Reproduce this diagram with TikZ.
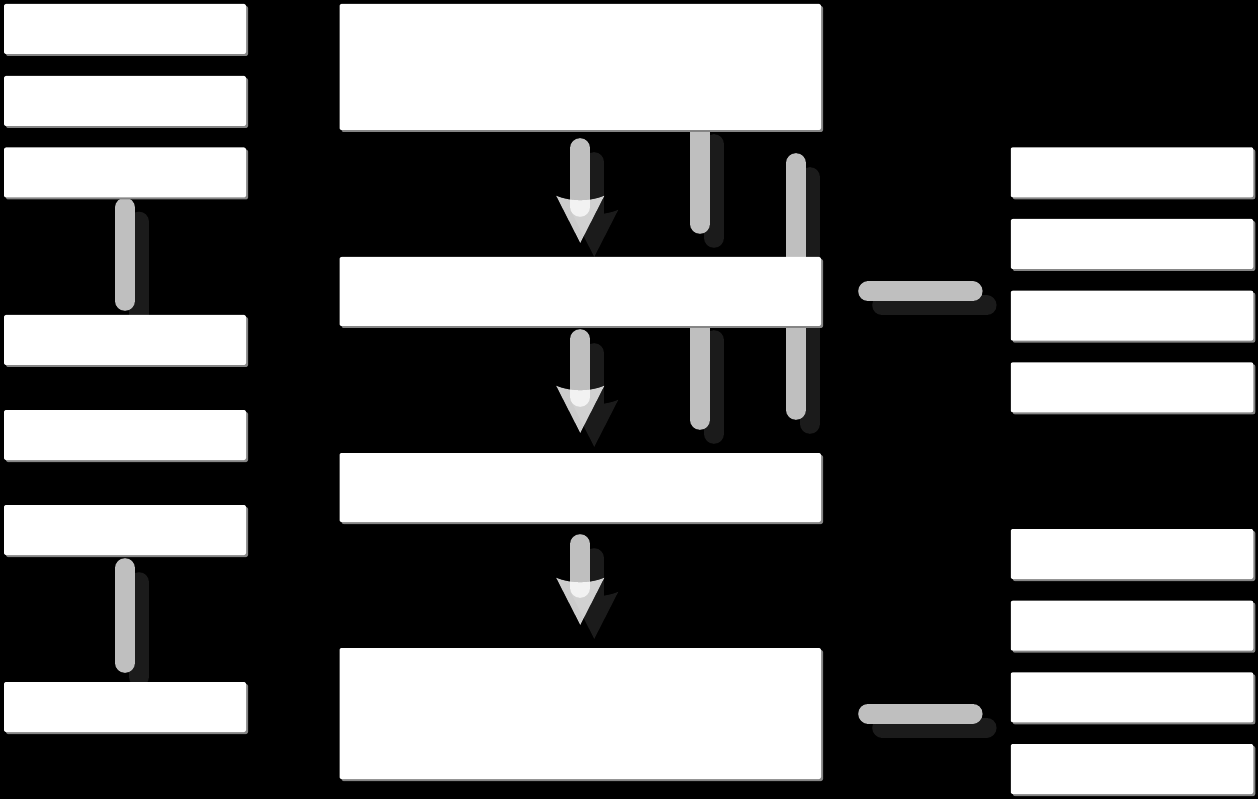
\documentclass[tikz,border=0pt]{standalone}
\usetikzlibrary{calc,shadows}
\definecolor{lg}{HTML}{BFBFBF}
\definecolor{sh}{HTML}{1B1B1B}
\definecolor{bs}{HTML}{858585}
\pgfdeclarelayer{bgl}
\pgfdeclarelayer{shl}
\pgfdeclarelayer{lnl}
\pgfdeclarelayer{hdl}
\pgfsetlayers{bgl,shl,lnl,hdl,main}
\tikzset{
  box/.style={fill=white, draw=none, rounded corners=2pt, inner sep=0pt,
    minimum width=242pt, minimum height=50pt,
    general shadow={fill=bs, shadow xshift=2pt, shadow yshift=-2pt}},
  wbox/.style={box, minimum width=481.5pt},
  conn/.style={draw=lg, line width=20pt, line cap=round},
  shd/.style={draw=sh, line width=20pt, line cap=round},
  shiftshadow/.style={transform canvas={xshift=14pt,yshift=-14pt}},
  headfill/.style={fill=white, fill opacity=0.8},
  headshadow/.style={fill=sh}
}
% #1 options, #2 start, #3 end
\newcommand\conline[3]{%
  \begin{pgfonlayer}{shl}\begin{scope}[shiftshadow]\draw[shd,#1] #2 -- #3;\end{scope}\end{pgfonlayer}%
  \begin{pgfonlayer}{lnl}\draw[conn,#1] #2 -- #3;\end{pgfonlayer}}
% #1 from node, #2 to node, #3 start gap, #4 tip gap, #5 line-end gap
\newcommand\flowarrow[5]{%
  \conline{shorten <=#3pt, shorten >=#5pt}{(#1.south)}{(#2.north)}%
  \coordinate (tp) at ($(#2.north)+(0,-#4)$);
  \begin{pgfonlayer}{shl}\begin{scope}[shiftshadow]
    \fill[headshadow] (tp) -- ($(tp)+(24,-47)$) .. controls ($(tp)+(10,-41)$) and ($(tp)+(-10,-41)$) .. ($(tp)+(-24,-47)$) -- cycle;
  \end{scope}\end{pgfonlayer}%
  \begin{pgfonlayer}{hdl}
    \fill[headfill] (tp) -- ($(tp)+(24,-47)$) .. controls ($(tp)+(10,-41)$) and ($(tp)+(-10,-41)$) .. ($(tp)+(-24,-47)$) -- cycle;
  \end{pgfonlayer}}
\begin{document}
\begin{tikzpicture}[x=1pt,y=-1pt]
\useasboundingbox (0,0) rectangle (1258,799);
\begin{pgfonlayer}{bgl}
  \fill[black] (0,0) rectangle (1258,799);
\end{pgfonlayer}
% left column
\node[box] (L1) at (125,29) {};
\node[box] (L2) at (125,101) {};
\node[box] (L3) at (125,172.5) {};
\node[box] (L4) at (125,340) {};
\node[box] (L5) at (125,435) {};
\node[box] (L6) at (125,530) {};
\node[box] (L7) at (125,707) {};
% centre column
\node[wbox, minimum height=126pt] (C1) at (580.25,67) {};
\node[wbox, minimum height=69pt] (C2) at (580.25,291.5) {};
\node[wbox, minimum height=69pt] (C3) at (580.25,487.5) {};
\node[wbox, minimum height=131pt] (C4) at (580.25,713.5) {};
% right column
\node[box, minimum width=242.5pt] (R1) at (1132,172.3) {};
\node[box, minimum width=242.5pt] (R2) at (1132,244) {};
\node[box, minimum width=242.5pt] (R3) at (1132,315.7) {};
\node[box, minimum width=242.5pt] (R4) at (1132,387.3) {};
\node[box, minimum width=242.5pt] (R5) at (1132,554) {};
\node[box, minimum width=242.5pt] (R6) at (1132,625.7) {};
\node[box, minimum width=242.5pt] (R7) at (1132,697.3) {};
\node[box, minimum width=242.5pt] (R8) at (1132,769) {};
% helper columns
\coordinate (v1) at (700,0);
\coordinate (v2) at (796,0);
% left connectors
\conline{shorten <=10pt, shorten >=14pt}{(L3.south)}{(L4.north)}
\conline{shorten <=13pt, shorten >=19pt}{(L6.south)}{(L7.north)}
% centre arrows
\flowarrow{C1}{C2}{18}{14}{50}
\flowarrow{C2}{C3}{13}{20}{56}
\flowarrow{C3}{C4}{22}{23}{60}
% right vertical connectors
\conline{shorten >=33pt}{(C1.south -| v1)}{(C2.north -| v1)}
\conline{shorten >=33pt}{(C2.south -| v1)}{(C3.north -| v1)}
\conline{shorten <=33pt, shorten >=43pt}{(C1.south -| v2)}{(C3.north -| v2)}
% horizontal connectors to right groups
\conline{shorten <=47pt, shorten >=38pt}{(C2.east)}{(C2.east -| R1.west)}
\conline{shorten <=47pt, shorten >=38pt}{(C4.east)}{(C4.east -| R5.west)}
\end{tikzpicture}
\end{document}
